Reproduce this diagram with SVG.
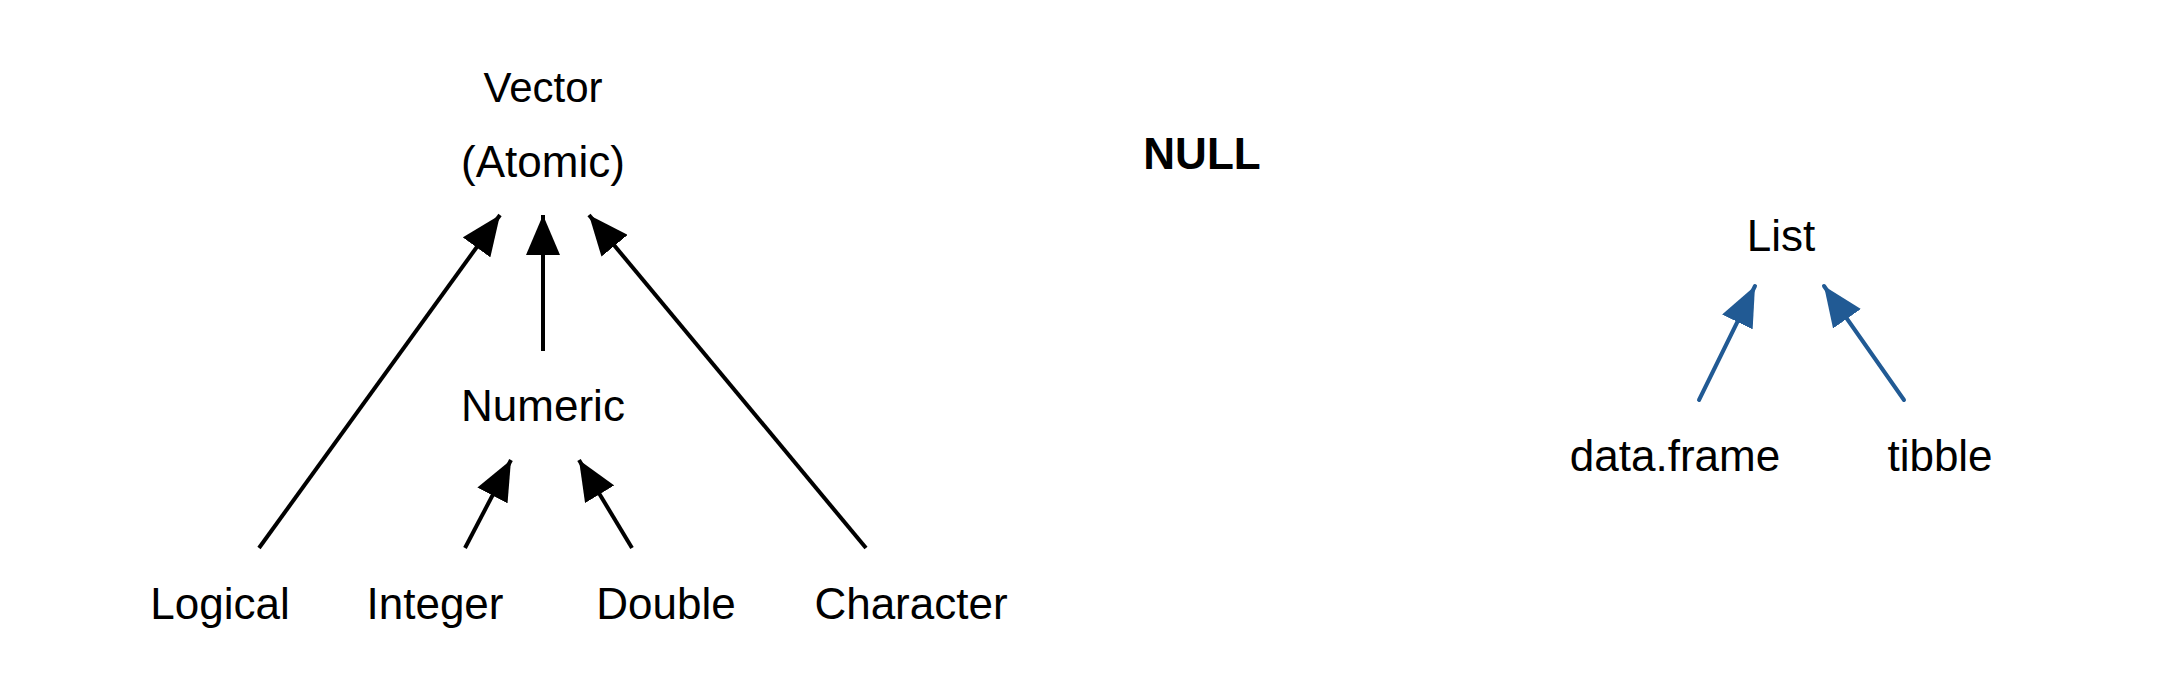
<svg xmlns="http://www.w3.org/2000/svg" width="2174" height="688" viewBox="0 0 2174 688">
<style>
text{font-family:"Liberation Sans",Arial,sans-serif;font-size:44px;fill:#000;text-anchor:middle}
.b{stroke:#000;stroke-width:4;fill:none}
.u{stroke:#215a94;stroke-width:4;fill:none;stroke-linecap:round}
</style>
<defs>
<marker id="ab" markerUnits="userSpaceOnUse" markerWidth="40" markerHeight="34" refX="40" refY="17" orient="auto"><path d="M0,0L40,17L0,34z" fill="#000"/></marker>
<marker id="au" markerUnits="userSpaceOnUse" markerWidth="40" markerHeight="34" refX="40" refY="17" orient="auto"><path d="M0,0L40,17L0,34z" fill="#215a94"/></marker>
</defs>
<rect width="2174" height="688" fill="#fff"/>
<g id="vector"><text x="543" y="102" style="font-size:42px">Vector</text><text x="543" y="177">(Atomic)</text></g>
<g id="numeric"><text x="543" y="421">Numeric</text></g>
<g id="logical"><text x="220" y="619">Logical</text></g>
<g id="integer"><text x="435" y="619">Integer</text></g>
<g id="double"><text x="666" y="619">Double</text></g>
<g id="character"><text x="911" y="619">Character</text></g>
<g id="null"><text x="1202" y="169" style="font-weight:bold">NULL</text></g>
<g id="list"><text x="1781" y="251">List</text></g>
<g id="dataframe"><text x="1675" y="471">data.frame</text></g>
<g id="tibble"><text x="1940" y="471">tibble</text></g>
<g id="connectors">
<line class="b" x1="259" y1="548" x2="500" y2="215" marker-end="url(#ab)"/>
<line class="b" x1="543" y1="351" x2="543" y2="215" marker-end="url(#ab)"/>
<line class="b" x1="866" y1="548" x2="589" y2="215" marker-end="url(#ab)"/>
<line class="b" x1="465" y1="548" x2="511" y2="460" marker-end="url(#ab)"/>
<line class="b" x1="632" y1="548" x2="579" y2="460" marker-end="url(#ab)"/>
<line class="u" x1="1699" y1="400" x2="1755" y2="286" marker-end="url(#au)"/>
<line class="u" x1="1904" y1="400" x2="1824" y2="286" marker-end="url(#au)"/>
</g>
</svg>
